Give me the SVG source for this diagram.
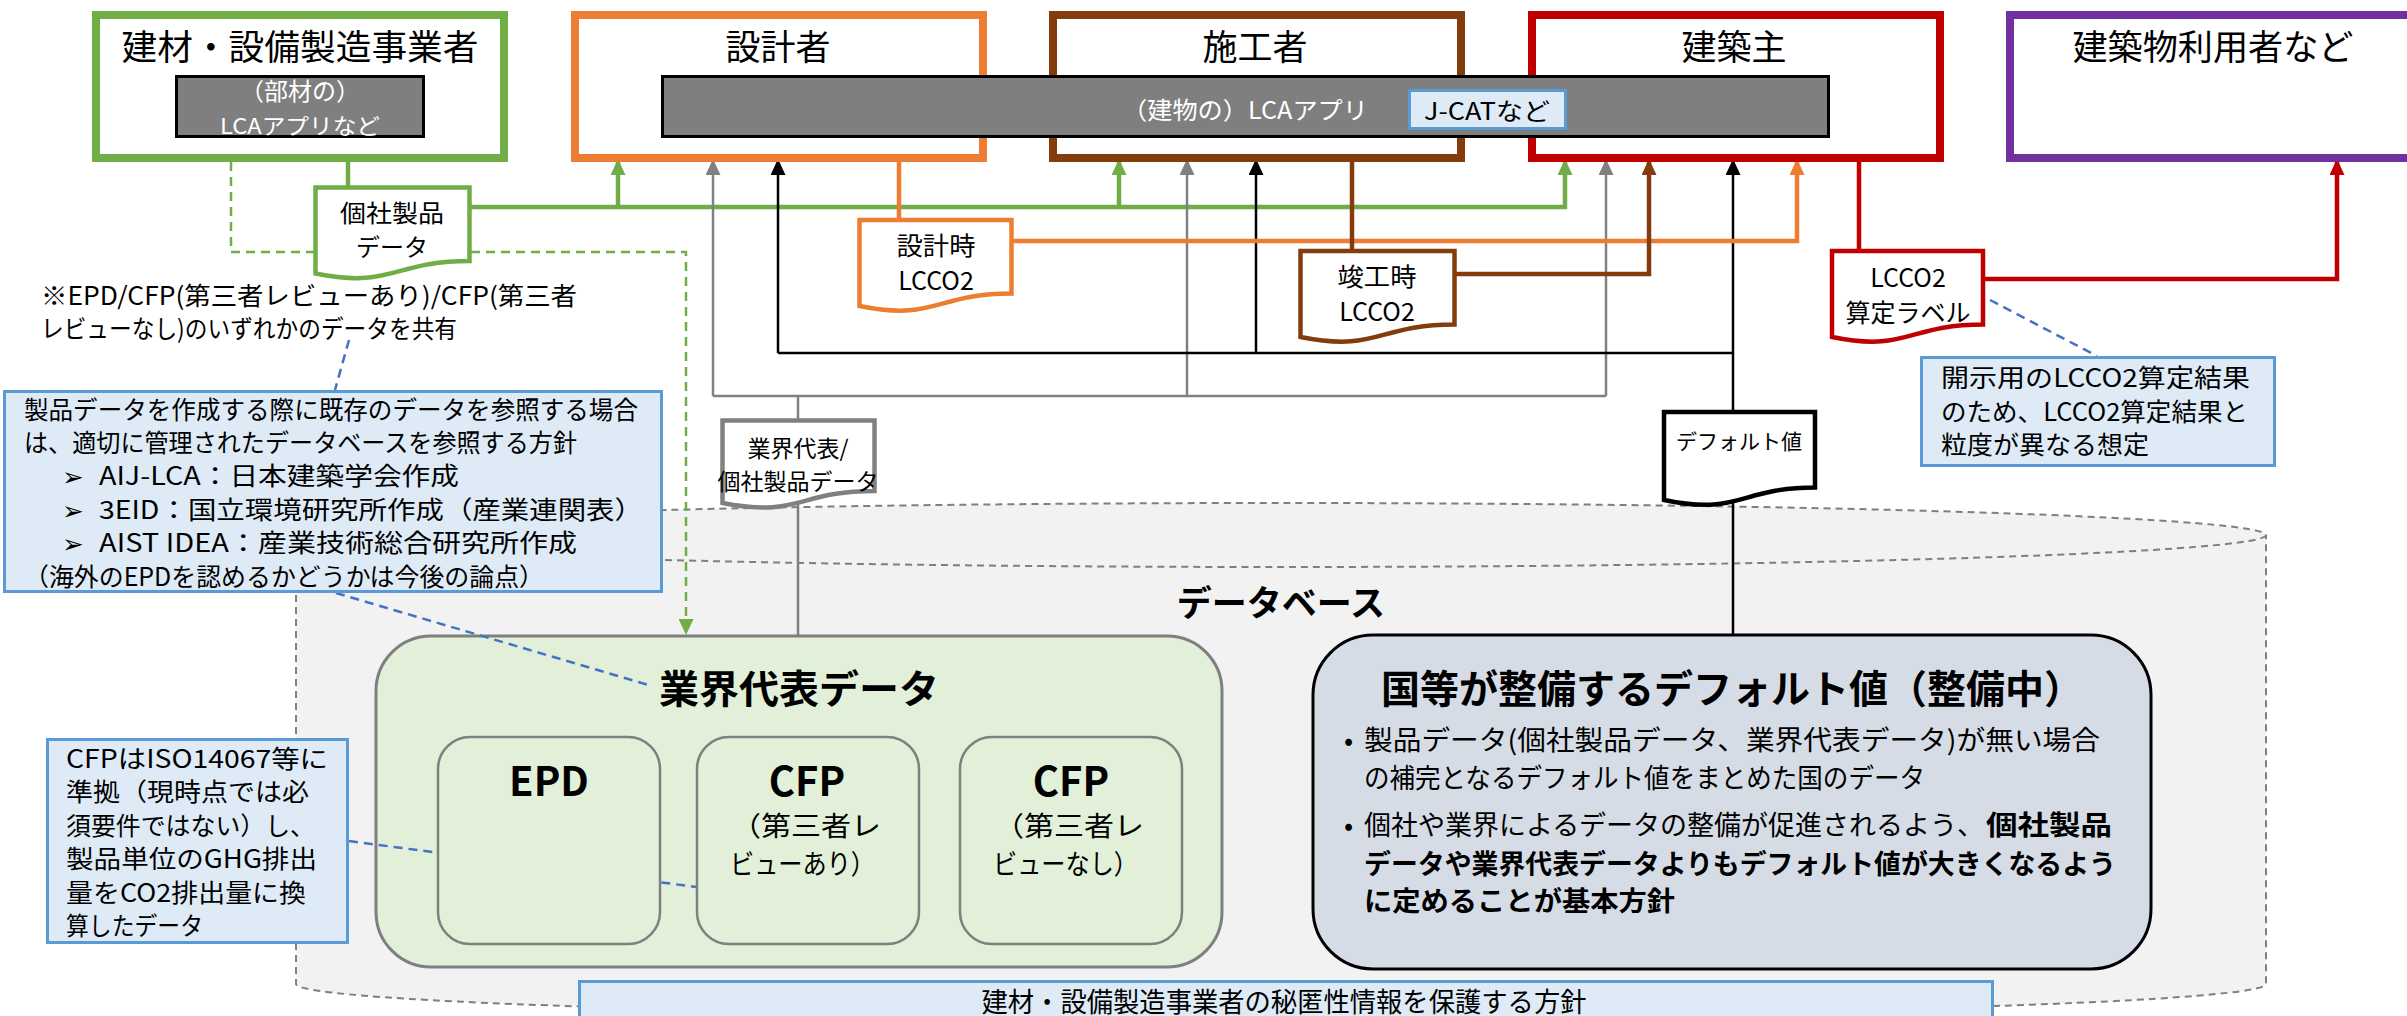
<svg xmlns="http://www.w3.org/2000/svg" width="2407" height="1016" viewBox="0 0 2407 1016">
<defs>
<style>
text{font-family:"Noto Sans CJK JP","Noto Sans",sans-serif;fill:#000}
.t35{font-size:35px}
.t25{font-size:25px}
.t27{font-size:27px}
.w{fill:#fff}
.b{font-weight:bold}
.actor{fill:#fff;stroke-width:8}
.app{fill:#7f7f7f;stroke:#000;stroke-width:3}
.note{fill:#deebf7;stroke:#5b9bd5;stroke-width:3}
.doc{fill:#fff;stroke-width:4.5}
.ln{fill:none;stroke-width:4.5}
.thin{fill:none;stroke-width:2.5}
.dash{fill:none;stroke:#4472c4;stroke-width:2.5;stroke-dasharray:9 6}
.sub{fill:#e2f0d9;stroke:#7f7f7f;stroke-width:2.5}
.arr{font-family:"DejaVu Sans",sans-serif;font-size:26px}
</style>
<marker id="aG" viewBox="0 0 16 15" refX="15" refY="7.5" markerWidth="16" markerHeight="15" markerUnits="userSpaceOnUse" orient="auto"><path d="M0,0 L16,7.5 L0,15 z" fill="#70ad47"/></marker>
<marker id="aO" viewBox="0 0 16 15" refX="15" refY="7.5" markerWidth="16" markerHeight="15" markerUnits="userSpaceOnUse" orient="auto"><path d="M0,0 L16,7.5 L0,15 z" fill="#ed7d31"/></marker>
<marker id="aB" viewBox="0 0 16 15" refX="15" refY="7.5" markerWidth="16" markerHeight="15" markerUnits="userSpaceOnUse" orient="auto"><path d="M0,0 L16,7.5 L0,15 z" fill="#843c0c"/></marker>
<marker id="aR" viewBox="0 0 16 15" refX="15" refY="7.5" markerWidth="16" markerHeight="15" markerUnits="userSpaceOnUse" orient="auto"><path d="M0,0 L16,7.5 L0,15 z" fill="#c00000"/></marker>
<marker id="aGr" viewBox="0 0 16 15" refX="15" refY="7.5" markerWidth="16" markerHeight="15" markerUnits="userSpaceOnUse" orient="auto"><path d="M0,0 L16,7.5 L0,15 z" fill="#808080"/></marker>
<marker id="aK" viewBox="0 0 16 15" refX="15" refY="7.5" markerWidth="16" markerHeight="15" markerUnits="userSpaceOnUse" orient="auto"><path d="M0,0 L16,7.5 L0,15 z" fill="#000"/></marker>
</defs>
<rect width="2407" height="1016" fill="#fff"/>

<!-- database cylinder -->
<g id="database">
<path d="M296,535 V984 A985,32 0 0 0 2266,984 V535" fill="#f2f2f2" stroke="#7f7f7f" stroke-width="2" stroke-dasharray="7 5"/>
<ellipse cx="1281" cy="535" rx="985" ry="32" fill="#f2f2f2" stroke="#7f7f7f" stroke-width="2" stroke-dasharray="7 5"/>
<text class="b" x="1281" y="616" font-size="35" text-anchor="middle">データベース</text>
</g>

<!-- connectors -->
<g id="connectors">
<path class="thin" d="M231,162 V252 H686 V634" stroke="#70ad47" stroke-dasharray="9 6" marker-end="url(#aG)"/>
<path class="ln" d="M348,160 V188" stroke="#70ad47"/>
<path class="ln" d="M470,207 H1565 V160" stroke="#70ad47" marker-end="url(#aG)"/>
<path class="ln" d="M618,207 V160" stroke="#70ad47" marker-end="url(#aG)"/>
<path class="ln" d="M1119,207 V160" stroke="#70ad47" marker-end="url(#aG)"/>
<path class="thin" d="M713,396 H1606" stroke="#808080"/>
<path class="thin" d="M713,396 V160" stroke="#808080" marker-end="url(#aGr)"/>
<path class="thin" d="M1187,396 V160" stroke="#808080" marker-end="url(#aGr)"/>
<path class="thin" d="M1606,396 V160" stroke="#808080" marker-end="url(#aGr)"/>
<path class="thin" d="M798,396 V421 M798,500 V636" stroke="#808080"/>
<path class="thin" d="M778,353 H1733" stroke="#000"/>
<path class="thin" d="M778,353 V160" stroke="#000" marker-end="url(#aK)"/>
<path class="thin" d="M1256,353 V160" stroke="#000" marker-end="url(#aK)"/>
<path class="thin" d="M1733,412 V160" stroke="#000" marker-end="url(#aK)"/>
<path class="thin" d="M1733,500 V635" stroke="#000"/>
<path class="ln" d="M899,162 V220" stroke="#ed7d31"/>
<path class="ln" d="M1012,241 H1797 V160" stroke="#ed7d31" marker-end="url(#aO)"/>
<path class="ln" d="M1352,162 V251" stroke="#843c0c"/>
<path class="ln" d="M1455,274 H1649 V160" stroke="#843c0c" marker-end="url(#aB)"/>
<path class="ln" d="M1859,162 V251" stroke="#c00000"/>
<path class="ln" d="M1983,279 H2337 V160" stroke="#c00000" marker-end="url(#aR)"/>
</g>

<!-- actors -->
<g id="maker">
<rect class="actor" x="96" y="15" width="408" height="143" stroke="#70ad47"/>
<text class="t35" x="300" y="60" text-anchor="middle" textLength="357" lengthAdjust="spacingAndGlyphs">建材・設備製造事業者</text>
<rect class="app" x="176.5" y="76.5" width="247" height="60"/>
<text class="w" x="300" y="100" font-size="24" text-anchor="middle">（部材の）</text>
<text class="w" x="300" y="134" font-size="22" text-anchor="middle" textLength="160" lengthAdjust="spacingAndGlyphs">LCAアプリなど</text>
</g>
<g id="designer">
<rect class="actor" x="575" y="15" width="408" height="143" stroke="#ed7d31"/>
<text class="t35" x="778" y="60" text-anchor="middle">設計者</text>
</g>
<g id="builder">
<rect class="actor" x="1053" y="15" width="408" height="143" stroke="#843c0c"/>
<text class="t35" x="1255" y="60" text-anchor="middle">施工者</text>
</g>
<g id="owner">
<rect class="actor" x="1532" y="15" width="408" height="143" stroke="#c00000"/>
<text class="t35" x="1734" y="60" text-anchor="middle">建築主</text>
</g>
<g id="user">
<rect class="actor" x="2010" y="15" width="408" height="143" stroke="#7030a0"/>
<text class="t35" x="2213" y="60" text-anchor="middle" textLength="281" lengthAdjust="spacingAndGlyphs">建築物利用者など</text>
</g>
<g id="building-lca">
<rect class="app" x="662.5" y="76.5" width="1166" height="60"/>
<text class="w" x="1122" y="119" font-size="24" textLength="246" lengthAdjust="spacingAndGlyphs">（建物の）LCAアプリ</text>
<rect x="1409.5" y="90.5" width="156" height="38" fill="#deebf7" stroke="#5b9bd5" stroke-width="3"/>
<text x="1487" y="120" font-size="24" text-anchor="middle" textLength="126" lengthAdjust="spacingAndGlyphs">J-CATなど</text>
</g>

<!-- documents -->
<g id="doc-company">
<path class="doc" stroke="#70ad47" d="M315.5,187.5 H469.5 V261 C392.5,261 392.5,289 315.5,273.5 Z"/>
<text x="392" y="222" font-size="24" text-anchor="middle" textLength="104" lengthAdjust="spacingAndGlyphs">個社製品</text>
<text x="392" y="256" font-size="24" text-anchor="middle">データ</text>
</g>
<g id="doc-design">
<path class="doc" stroke="#ed7d31" d="M859.5,220 H1011.5 V293.5 C935.5,293.5 935.5,321.5 859.5,306 Z"/>
<text x="936" y="255" font-size="25" text-anchor="middle" textLength="79" lengthAdjust="spacingAndGlyphs">設計時</text>
<text x="936" y="290" font-size="25" text-anchor="middle">LCCO2</text>
</g>
<g id="doc-complete">
<path class="doc" stroke="#843c0c" d="M1300.5,251 H1454.5 V324.5 C1377.5,324.5 1377.5,352.5 1300.5,337 Z"/>
<text x="1377" y="286" font-size="25" text-anchor="middle" textLength="79" lengthAdjust="spacingAndGlyphs">竣工時</text>
<text x="1377" y="321" font-size="25" text-anchor="middle">LCCO2</text>
</g>
<g id="doc-label">
<path class="doc" stroke="#c00000" d="M1832,251 H1983 V324.5 C1907.5,324.5 1907.5,352.5 1832,337 Z"/>
<text x="1908" y="287" font-size="25" text-anchor="middle">LCCO2</text>
<text x="1908" y="322" font-size="25" text-anchor="middle">算定ラベル</text>
</g>
<g id="doc-industry">
<path class="doc" stroke="#808080" stroke-width="3" d="M722.5,420.5 H874.5 V491 C798.5,491 798.5,518 722.5,503 Z"/>
<text x="798" y="457" font-size="23" text-anchor="middle">業界代表/</text>
<text x="798" y="490" font-size="23" text-anchor="middle">個社製品データ</text>
</g>
<g id="doc-default">
<path class="doc" stroke="#000" d="M1664,412 H1815 V487.5 C1739.5,487.5 1739.5,516 1664,500 Z"/>
<text x="1739" y="449" font-size="21" text-anchor="middle">デフォルト値</text>
</g>

<!-- data boxes -->
<g id="industry-data">
<rect x="376" y="636" width="846" height="331" rx="55" fill="#e2f0d9" stroke="#7f7f7f" stroke-width="3"/>
<text class="b" x="799" y="703" font-size="39" text-anchor="middle" textLength="280" lengthAdjust="spacingAndGlyphs">業界代表データ</text>
</g>
<g id="default-data">
<rect x="1313" y="635" width="838" height="334" rx="60" fill="#d6dce5" stroke="#000" stroke-width="3"/>
<text class="b" x="1381" y="703" font-size="39" textLength="702" lengthAdjust="spacingAndGlyphs">国等が整備するデフォルト値（整備中）</text>
<text class="t27" x="1344" y="750">•</text>
<text class="t27" x="1364" y="750" textLength="736" lengthAdjust="spacingAndGlyphs">製品データ(個社製品データ、業界代表データ)が無い場合</text>
<text class="t27" x="1364" y="788" textLength="561" lengthAdjust="spacingAndGlyphs">の補完となるデフォルト値をまとめた国のデータ</text>
<text class="t27" x="1344" y="835">•</text>
<text class="t27" x="1364" y="835" textLength="620" lengthAdjust="spacingAndGlyphs">個社や業界によるデータの整備が促進されるよう、</text>
<text class="t27 b" x="1986" y="835" textLength="126" lengthAdjust="spacingAndGlyphs">個社製品</text>
<text class="t27 b" x="1364" y="874" textLength="752" lengthAdjust="spacingAndGlyphs">データや業界代表データよりもデフォルト値が大きくなるよう</text>
<text class="t27 b" x="1364" y="911" textLength="311" lengthAdjust="spacingAndGlyphs">に定めることが基本方針</text>
</g>

<!-- annotation leader lines -->
<g id="leaders">
<path class="dash" d="M349,340 L335,390"/>
<path class="dash" d="M336,593 L652,686"/>
<path class="dash" d="M349,841 L696,887"/>
<path class="dash" d="M1990,300 L2097,356"/>
</g>

<g id="epd">
<rect class="sub" x="438" y="737" width="222" height="207" rx="32"/>
<text class="b" x="549" y="796" font-size="40" text-anchor="middle">EPD</text>
</g>
<g id="cfp-reviewed">
<rect class="sub" x="697" y="737" width="222" height="207" rx="32"/>
<text class="b" x="807" y="796" font-size="40" text-anchor="middle">CFP</text>
<text x="731" y="836" font-size="27" textLength="150" lengthAdjust="spacingAndGlyphs">（第三者レ</text>
<text x="730" y="874" font-size="27" textLength="145" lengthAdjust="spacingAndGlyphs">ビューあり）</text>
</g>
<g id="cfp-unreviewed">
<rect class="sub" x="960" y="737" width="222" height="207" rx="32"/>
<text class="b" x="1071" y="796" font-size="40" text-anchor="middle">CFP</text>
<text x="994" y="836" font-size="27" textLength="150" lengthAdjust="spacingAndGlyphs">（第三者レ</text>
<text x="993" y="874" font-size="27" textLength="145" lengthAdjust="spacingAndGlyphs">ビューなし）</text>
</g>

<!-- notes -->
<g id="note-share">
<text class="t25" x="41" y="305" textLength="536" lengthAdjust="spacingAndGlyphs">※EPD/CFP(第三者レビューあり)/CFP(第三者</text>
<text class="t25" x="41" y="338" textLength="416" lengthAdjust="spacingAndGlyphs">レビューなし)のいずれかのデータを共有</text>
</g>
<g id="note-database">
<rect class="note" x="4.5" y="391.5" width="657" height="200"/>
<text class="t25" x="24" y="419" textLength="614" lengthAdjust="spacingAndGlyphs">製品データを作成する際に既存のデータを参照する場合</text>
<text class="t25" x="24" y="452" textLength="553" lengthAdjust="spacingAndGlyphs">は、適切に管理されたデータベースを参照する方針</text>
<text class="arr" x="62" y="486">➢</text>
<text class="t25" x="99" y="485" textLength="360" lengthAdjust="spacingAndGlyphs">AIJ-LCA：日本建築学会作成</text>
<text class="arr" x="62" y="520">➢</text>
<text class="t25" x="99" y="519" textLength="544" lengthAdjust="spacingAndGlyphs">3EID：国立環境研究所作成（産業連関表）</text>
<text class="arr" x="62" y="553">➢</text>
<text class="t25" x="99" y="552" textLength="478" lengthAdjust="spacingAndGlyphs">AIST IDEA：産業技術総合研究所作成</text>
<text class="t25" x="24" y="586" textLength="520" lengthAdjust="spacingAndGlyphs">（海外のEPDを認めるかどうかは今後の論点）</text>
</g>
<g id="note-cfp">
<rect class="note" x="47.5" y="739.5" width="300" height="203"/>
<text class="t25" x="66" y="768" textLength="262" lengthAdjust="spacingAndGlyphs">CFPはISO14067等に</text>
<text class="t25" x="66" y="801" textLength="243" lengthAdjust="spacingAndGlyphs">準拠（現時点では必</text>
<text class="t25" x="66" y="835" textLength="249" lengthAdjust="spacingAndGlyphs">須要件ではない）し、</text>
<text class="t25" x="66" y="868" textLength="251" lengthAdjust="spacingAndGlyphs">製品単位のGHG排出</text>
<text class="t25" x="66" y="902" textLength="240" lengthAdjust="spacingAndGlyphs">量をCO2排出量に換</text>
<text class="t25" x="66" y="935" textLength="137" lengthAdjust="spacingAndGlyphs">算したデータ</text>
</g>
<g id="note-label">
<rect class="note" x="1921.5" y="357.5" width="353" height="108"/>
<text class="t25" x="1941" y="387" textLength="309" lengthAdjust="spacingAndGlyphs">開示用のLCCO2算定結果</text>
<text class="t25" x="1941" y="421" textLength="307" lengthAdjust="spacingAndGlyphs">のため、LCCO2算定結果と</text>
<text class="t25" x="1941" y="454" textLength="208" lengthAdjust="spacingAndGlyphs">粒度が異なる想定</text>
</g>
<g id="note-secret">
<rect class="note" x="579.5" y="981.5" width="1413" height="60"/>
<text class="t27" x="1284" y="1012" text-anchor="middle" textLength="605" lengthAdjust="spacingAndGlyphs">建材・設備製造事業者の秘匿性情報を保護する方針</text>
</g>
</svg>
